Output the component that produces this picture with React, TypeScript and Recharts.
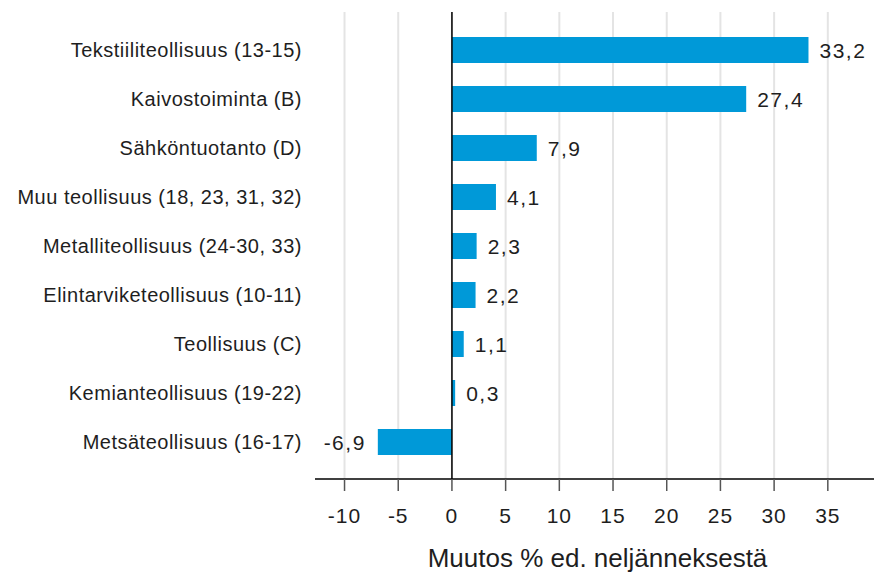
import { Bar, BarChart, CartesianGrid, LabelList, ReferenceLine, XAxis, YAxis } from "recharts";

const categories = [
  "Tekstiiliteollisuus (13-15)",
  "Kaivostoiminta (B)",
  "Sähköntuotanto (D)",
  "Muu teollisuus (18, 23, 31, 32)",
  "Metalliteollisuus (24-30, 33)",
  "Elintarviketeollisuus (10-11)",
  "Teollisuus (C)",
  "Kemianteollisuus (19-22)",
  "Metsäteollisuus (16-17)",
];

const values = [33.2, 27.4, 7.9, 4.1, 2.3, 2.2, 1.1, 0.3, -6.9];

const xTicks = [-10, -5, 0, 5, 10, 15, 20, 25, 30, 35];

const axisTitle = "Muutos % ed. neljänneksestä";

const data = categories.map((name, i) => ({ name, value: values[i] }));

const font = "'Liberation Sans', Arial, sans-serif";

const fmt = (v: number) => v.toFixed(1).replace(".", ",");

function ValueLabel(props: any) {
  const { x, y, width, height, value } = props;
  const left = Math.min(x, x + width);
  const right = Math.max(x, x + width);
  const neg = value < 0;
  return (
    <text
      x={neg ? left - 12 : right + 11}
      y={y + height / 2}
      dy="0.36em"
      textAnchor={neg ? "end" : "start"}
      fill="#1e1e1e"
      fontSize={21}
      fontFamily={font}
      letterSpacing={1.5}
    >
      {fmt(value)}
    </text>
  );
}

export default function App() {
  return (
    <div style={{ position: "absolute", left: 0, top: 0, background: "#fff" }}>
      <BarChart
        width={874}
        height={573}
        data={data}
        layout="vertical"
        margin={{ top: 12, right: 0, bottom: 0, left: 0 }}
      >
        {/* syncWithTicks: grid only at the tick values, not at the plot edges */}
        <CartesianGrid horizontal={false} syncWithTicks stroke="#e4e4e4" strokeWidth={2} />
        <XAxis
          type="number"
          domain={[-12.75, 39.3]}
          ticks={xTicks}
          allowDataOverflow
          height={94}
          tickSize={12}
          tickMargin={17}
          axisLine={{ stroke: "#000", strokeWidth: 1.5 }}
          tickLine={{ stroke: "#555", strokeWidth: 1.5 }}
          tick={{ fill: "#1e1e1e", fontSize: 21, fontFamily: font, letterSpacing: 1 }}
          label={{
            value: axisTitle,
            position: "insideBottom",
            offset: 6,
            dx: 3,
            fill: "#1e1e1e",
            fontSize: 26,
            fontFamily: font,
          }}
        />
        <YAxis
          type="category"
          dataKey="name"
          width={315}
          padding={{ top: 13, bottom: 13 }}
          axisLine={false}
          tickLine={false}
          tickSize={0}
          tickMargin={13}
          interval={0}
          tick={{ fill: "#1e1e1e", fontSize: 20, fontFamily: font, letterSpacing: 0.5 }}
        />
        <Bar dataKey="value" fill="#0099d8" barSize={26} isAnimationActive={false}>
          <LabelList dataKey="value" content={ValueLabel} />
        </Bar>
        <ReferenceLine x={0} stroke="#000" strokeWidth={1.5} />
      </BarChart>
    </div>
  );
}
